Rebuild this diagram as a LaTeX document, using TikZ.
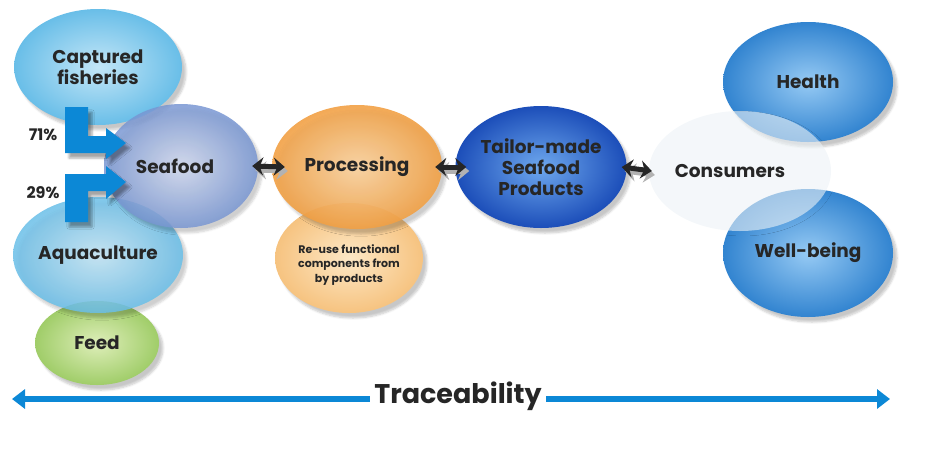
\documentclass[tikz,border=0pt]{standalone}
\usepackage{fontspec}
\setmainfont{Poppins}
\usetikzlibrary{shapes.geometric,arrows.meta,shadows.blur}
\definecolor{capblue}{RGB}{105,190,232}
\definecolor{capblueL}{RGB}{195,230,247}
\definecolor{seablue}{RGB}{120,150,210}
\definecolor{seablueL}{RGB}{210,218,240}
\definecolor{feedgreen}{RGB}{160,205,105}
\definecolor{feedgreenL}{RGB}{222,238,185}
\definecolor{procorange}{RGB}{242,160,68}
\definecolor{procorangeL}{RGB}{252,212,160}
\definecolor{reuseorange}{RGB}{246,195,128}
\definecolor{reuseorangeL}{RGB}{253,232,198}
\definecolor{tailorblue}{RGB}{28,78,185}
\definecolor{tailorblueL}{RGB}{110,168,238}
\definecolor{wellblue}{RGB}{50,132,208}
\definecolor{wellblueL}{RGB}{150,202,244}
\definecolor{consgray}{RGB}{236,242,246}
\definecolor{arrowblue}{RGB}{12,136,214}
\tikzset{
  blob/.style={ellipse, inner sep=0pt, align=center, text=black!85,
    font=\bfseries\fontsize{18.5}{21}\selectfont,
    blur shadow={shadow xshift=4pt, shadow yshift=-5pt, shadow blur steps=6, shadow opacity=22}},
  dbl/.style={line width=5pt, black!85, {Stealth[length=11pt,width=18pt]}-{Stealth[length=11pt,width=18pt]}},
  dblshade/.style={line width=5pt, black!30, {Stealth[length=11pt,width=18pt]}-{Stealth[length=11pt,width=18pt]}, transform canvas={shift={(3pt,-4pt)}}},
  trace/.style={line width=5.5pt, arrowblue, {Triangle[length=13pt,width=19pt]}-{Triangle[length=13pt,width=19pt]}},
  pct/.style={font=\bfseries\fontsize{16}{18}\selectfont, text=black!85}
}
\begin{document}
\begin{tikzpicture}[x=1pt,y=-1pt]
\useasboundingbox (0,0) rectangle (941,464);
% left group
\node[blob, minimum width=124pt, minimum height=84pt, inner color=feedgreenL, outer color=feedgreen] (feed) at (97,343) {Feed};
\node[blob, minimum width=170pt, minimum height=116pt, inner color=capblueL, outer color=capblue, fill opacity=0.85, text opacity=1] (aqua) at (98,255) {Aquaculture};
\node[blob, minimum width=168pt, minimum height=116pt, inner color=capblueL, outer color=capblue] (capt) at (98,67) {Captured\\fisheries};
\node[blob, minimum width=154pt, minimum height=124pt, inner color=seablueL, outer color=seablue, fill opacity=0.85, text opacity=1] (seafood) at (181,166) {\hspace*{-12pt}Seafood};
% blue split arrows
\fill[arrowblue, blur shadow={shadow xshift=4pt, shadow yshift=-5pt, shadow opacity=35}] (65,107) -- (88,107) -- (88,136) -- (106,136) -- (106,128) -- (126,143) -- (106,159) -- (106,153) -- (65,153) -- cycle;
\fill[arrowblue, blur shadow={shadow xshift=4pt, shadow yshift=-5pt, shadow opacity=35}] (65,222) -- (88,222) -- (88,191) -- (106,191) -- (106,199) -- (126,182) -- (106,166) -- (106,174) -- (65,174) -- cycle;
\node[pct] (p71) at (43,135) {71\%};
\node[pct] (p29) at (43,193) {29\%};
% processing
\node[blob, minimum width=148pt, minimum height=110pt, inner color=reuseorangeL, outer color=reuseorange, font=\bfseries\fontsize{11}{14.5}\selectfont] (reuse) at (349,258) {\\[8pt]Re-use functional\\components from\\by products};
\node[blob, minimum width=170pt, minimum height=124pt, inner color=procorangeL, outer color=procorange, fill opacity=0.9, text opacity=1] (proc) at (357,167) {Processing};
% products
\node[blob, minimum width=168pt, minimum height=122pt, inner color=tailorblueL, outer color=tailorblue] (tailor) at (541,167) {Tailor-made\\Seafood\\Products};
% consumers
\node[blob, minimum width=170pt, minimum height=120pt, inner color=wellblueL, outer color=wellblue] (health) at (808,82) {Health};
\node[blob, minimum width=170pt, minimum height=128pt, inner color=wellblueL, outer color=wellblue] (well) at (808,253) {Well-being};
\node[blob, minimum width=182pt, minimum height=120pt, fill=consgray, fill opacity=0.6, text opacity=1, blur shadow={shadow opacity=0}] (cons) at (740,171) {\hspace*{-20pt}Consumers};
% links
\draw[dblshade] ([xshift=-6pt]seafood.east) -- ([xshift=13pt]proc.west);
\draw[dblshade] ([xshift=-7pt]proc.east) -- ([xshift=11pt]tailor.west);
\draw[dblshade] ([xshift=-5pt]tailor.east) -- ([xshift=3pt]cons.west);
\draw[dbl] ([xshift=-6pt]seafood.east) -- ([xshift=13pt]proc.west);
\draw[dbl] ([xshift=-7pt]proc.east) -- ([xshift=11pt]tailor.west);
\draw[dbl] ([xshift=-5pt]tailor.east) -- ([xshift=3pt]cons.west);
% traceability
\coordinate (tl) at (12,399);
\coordinate (tr) at (890,399);
\draw[trace] (tl) -- (tr);
\node[fill=white, inner xsep=4pt, font=\bfseries\fontsize{27}{30}\selectfont, text=black!85] (trc) at (458,396) {Traceability};
\end{tikzpicture}
\end{document}
